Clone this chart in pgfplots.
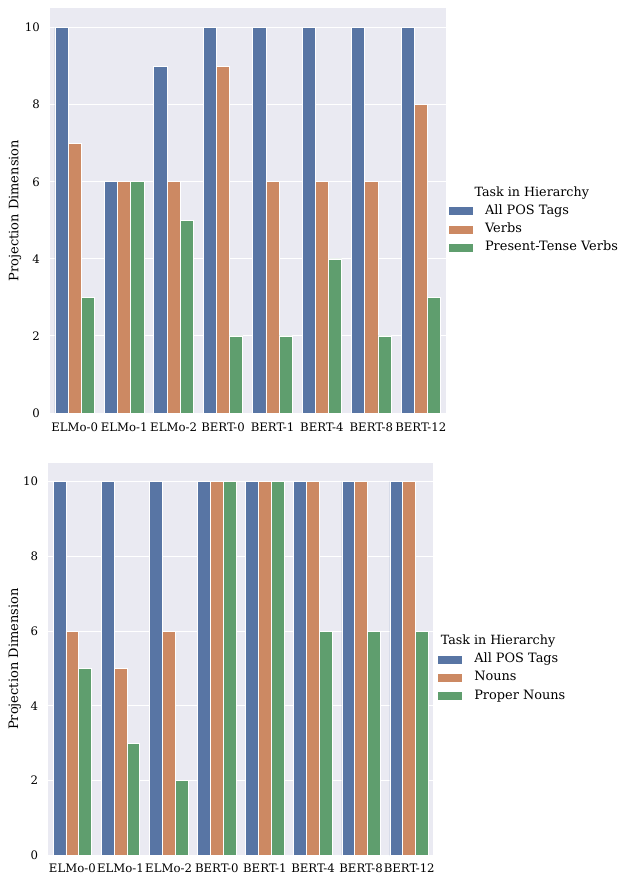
\documentclass[border=0pt]{standalone}
\usepackage{pgfplots}
\pgfplotsset{compat=1.18}
\usepackage{fontspec}
\setmainfont{DejaVu Serif}
\definecolor{sbblue}{HTML}{5875A4}
\definecolor{sborange}{HTML}{CC8963}
\definecolor{sbgreen}{HTML}{5F9E6E}
\definecolor{sbbg}{HTML}{EAEAF2}
\newcommand{\fs}{\fontsize{11.7}{14}\selectfont}
\newcommand{\fl}{\fontsize{13}{15.5}\selectfont}
\newcommand{\fg}{\fontsize{12.9}{15.5}\selectfont}
\newcommand{\ft}{\fontsize{12.7}{15.5}\selectfont}
\pgfplotsset{
 sbstyle/.style={
  scale only axis,
  ybar, bar width=0.2667,
  ymin=0, ymax=10.5, xmin=-0.5, xmax=7.5,
  ytick={0,2,...,10},
  xtick={0,...,7},
  xticklabels={ELMo-0,ELMo-1,ELMo-2,BERT-0,BERT-1,BERT-4,BERT-8,BERT-12},
  axis background/.style={fill=sbbg},
  axis line style={draw=none},
  major tick length=0pt,
  ymajorgrids, grid style={white, line width=0.9pt},
  clip=false,
  /pgf/number format/assume math mode=true,
  tick label style={font=\fs},
  yticklabel style={inner sep=0pt, xshift=-10pt},
  xticklabel style={inner sep=0pt, yshift=-9.5pt},
  label style={font=\fl},
  legend cell align=left,
  legend style={draw=none, fill=none, font=\fg, inner sep=0pt,
    column sep=12pt,
    nodes={inner sep=0pt, text height=12pt, text depth=6.3pt}},
  legend image code/.code={\path[##1,/tikz/.cd,draw=none] (0pt,-4pt) rectangle (24pt,4pt);},
  every axis plot/.append style={draw=white, line width=0.7pt},
 }
}
\begin{document}
\begin{tikzpicture}[font=\fs]
\useasboundingbox (0,0) rectangle (620pt,-874pt);
\begin{axis}[sbstyle, at={(50pt,-8.4pt)}, anchor=north west, width=395.5pt, height=404.6pt,
  ylabel={Projection Dimension},
  ylabel style={at={(axis description cs:-0.0886,0.5)}, anchor=center},
  legend style={at={(1.0085,0.453)}, anchor=west}]
\addplot[fill=sbblue, bar shift=-0.2667] coordinates {(0,10)(1,6)(2,9)(3,10)(4,10)(5,10)(6,10)(7,10)};
\addplot[fill=sborange, bar shift=0] coordinates {(0,7)(1,6)(2,6)(3,9)(4,6)(5,6)(6,6)(7,8)};
\addplot[fill=sbgreen, bar shift=0.2667] coordinates {(0,3)(1,6)(2,5)(3,2)(4,2)(5,4)(6,2)(7,3)};
\legend{All POS Tags, Verbs, Present-Tense Verbs}
\node[font=\ft, anchor=center] at (axis description cs:1.218,0.544) {Task in Hierarchy};
\end{axis}
\begin{axis}[sbstyle, at={(48.3pt,-463pt)}, anchor=north west, width=385pt, height=392.3pt,
  xticklabel style={yshift=1pt},
  ylabel={Projection Dimension},
  ylabel style={at={(axis description cs:-0.087,0.5)}, anchor=center},
  legend style={at={(1.0125,0.452)}, anchor=west}]
\addplot[fill=sbblue, bar shift=-0.2667] coordinates {(0,10)(1,10)(2,10)(3,10)(4,10)(5,10)(6,10)(7,10)};
\addplot[fill=sborange, bar shift=0] coordinates {(0,6)(1,5)(2,6)(3,10)(4,10)(5,10)(6,10)(7,10)};
\addplot[fill=sbgreen, bar shift=0.2667] coordinates {(0,5)(1,3)(2,2)(3,10)(4,10)(5,6)(6,6)(7,6)};
\legend{All POS Tags, Nouns, Proper Nouns}
\node[font=\ft, anchor=center] at (axis description cs:1.168,0.547) {Task in Hierarchy};
\end{axis}
\end{tikzpicture}
\end{document}
